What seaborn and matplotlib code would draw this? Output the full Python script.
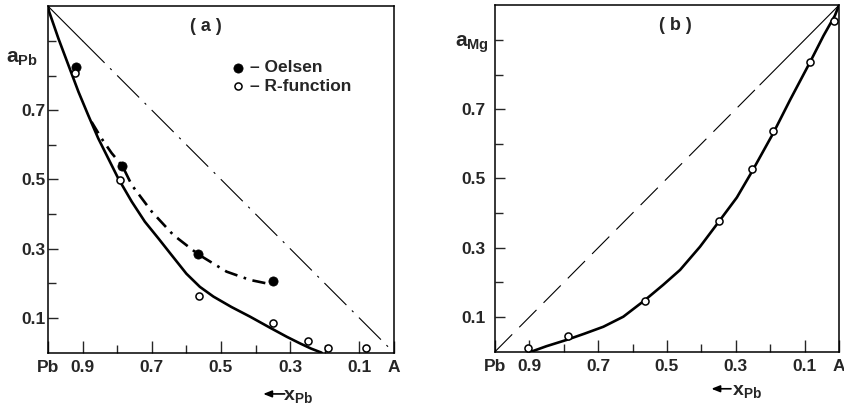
import matplotlib
matplotlib.use("Agg")
import matplotlib.pyplot as plt
import seaborn as sns

# ---- panel (a): activity of Pb ----
oelsen_x = [0.919, 0.785, 0.566, 0.349]
oelsen_y = [0.825, 0.539, 0.284, 0.207]

rfunc_a_x = [0.923, 0.791, 0.564, 0.351, 0.248, 0.192, 0.082]
rfunc_a_y = [0.806, 0.497, 0.164, 0.085, 0.035, 0.014, 0.013]

curve_a_x = [1.0, 0.997, 0.970, 0.941, 0.912, 0.884, 0.855, 0.826, 0.797, 0.758,
             0.720, 0.681, 0.647, 0.60, 0.561, 0.522, 0.47, 0.416, 0.36, 0.31,
             0.272, 0.24, 0.209]
curve_a_y = [1.0, 0.985, 0.907, 0.830, 0.753, 0.686, 0.619, 0.561, 0.503, 0.436,
             0.378, 0.330, 0.287, 0.228, 0.190, 0.162, 0.132, 0.104, 0.073, 0.046,
             0.027, 0.012, 0.0]

oelsen_curve_x = [0.874, 0.845, 0.816, 0.785, 0.758, 0.700, 0.638, 0.566, 0.484,
                  0.416, 0.368, 0.349]
oelsen_curve_y = [0.666, 0.618, 0.576, 0.539, 0.484, 0.407, 0.340, 0.284, 0.234,
                  0.210, 0.200, 0.205]

raoult_a_solid_x = [1.0, 0.9]
raoult_a_solid_y = [1.0, 0.9]
raoult_a_dash_x = [0.9, 0.0]
raoult_a_dash_y = [0.9, 0.0]

# ---- panel (b): activity of Mg ----
rfunc_b_x = [0.903, 0.789, 0.564, 0.350, 0.253, 0.192, 0.084, 0.014]
rfunc_b_y = [0.012, 0.046, 0.146, 0.377, 0.527, 0.636, 0.835, 0.955]

curve_b_x = [0.895, 0.85, 0.792, 0.74, 0.685, 0.627, 0.564, 0.511, 0.462, 0.404,
             0.351, 0.297, 0.254, 0.191, 0.142, 0.084, 0.045, 0.012, 0.0]
curve_b_y = [0.0, 0.016, 0.034, 0.052, 0.072, 0.101, 0.149, 0.193, 0.236, 0.303,
             0.373, 0.445, 0.518, 0.631, 0.727, 0.836, 0.912, 0.970, 1.0]

raoult_b_dash_x = [1.0, 0.23]
raoult_b_dash_y = [0.0, 0.77]
raoult_b_solid_x = [0.23, 0.0]
raoult_b_solid_y = [0.77, 1.0]

# axis ticks
xticks = [1.0, 0.9, 0.7, 0.5, 0.3, 0.1, 0.0]
xticklabels = ["Pb", "0.9", "0.7", "0.5", "0.3", "0.1", "A"]
xminor = [0.8, 0.6, 0.4, 0.2]
yticks = [0.1, 0.3, 0.5, 0.7]
yticklabels = ["0.1", "0.3", "0.5", "0.7"]
yminor = [0.2, 0.4, 0.6, 0.8, 0.9]

sns.set_style("ticks")
plt.rcParams["font.family"] = ["Liberation Sans", "DejaVu Sans"]
plt.rcParams["font.weight"] = "bold"
plt.rcParams["mathtext.fontset"] = "custom"
plt.rcParams["mathtext.rm"] = "Liberation Sans:bold"
plt.rcParams["mathtext.it"] = "Liberation Sans:bold"
plt.rcParams["mathtext.bf"] = "Liberation Sans:bold"

fig = plt.figure(figsize=(8.45, 4.12), dpi=100)
ax1 = fig.add_axes([48 / 845, 1 - 352.7 / 412, 346 / 845, 346.5 / 412])
ax2 = fig.add_axes([495 / 845, 1 - 351.7 / 412, 344 / 845, 346.5 / 412])


def style_axis(ax, ypad):
    ax.set_xlim(1, 0)
    ax.set_ylim(0, 1)
    ax.set_xticks(xticks)
    ax.set_xticklabels(xticklabels, fontsize=12.5, fontweight="bold")
    ax.set_xticks(xminor, minor=True)
    ax.set_yticks(yticks)
    ax.set_yticklabels(yticklabels, fontsize=12.5, fontweight="bold")
    ax.set_yticks(yminor, minor=True)
    ax.tick_params(axis="x", which="major", direction="in", length=9, width=1, pad=5)
    ax.tick_params(axis="x", which="minor", direction="in", length=6, width=1)
    ax.tick_params(axis="y", which="major", direction="in", length=7, width=1, pad=ypad)
    ax.tick_params(axis="y", which="minor", direction="in", length=6, width=1)
    for s in ax.spines.values():
        s.set_visible(True)
        s.set_linewidth(1.1)
        s.set_color("black")


def line(ax, xs, ys, lw, ls="-"):
    sns.lineplot(x=xs, y=ys, ax=ax, color="black", lw=lw, linestyle=ls,
                 sort=False, estimator=None)


def arrow_xlabel(ax, x_text, y_text, x_tail, x_head, y_arrow):
    # "<-- x_Pb" below the axis: arrow drawn, label as text
    ax.set_xlabel(r"x$_{\mathregular{Pb}}$", fontsize=14, fontweight="bold")
    ax.xaxis.set_label_coords(x_text, y_text)
    ax.xaxis.label.set_va("center")
    ax.annotate("", xy=(x_head, y_arrow), xytext=(x_tail, y_arrow),
                xycoords="axes fraction", textcoords="axes fraction",
                annotation_clip=False,
                arrowprops=dict(arrowstyle="-|>,head_length=0.5,head_width=0.2",
                                color="black", lw=1.2, shrinkA=0, shrinkB=0))


# panel (a)
line(ax1, raoult_a_solid_x, raoult_a_solid_y, 0.8)
line(ax1, raoult_a_dash_x, raoult_a_dash_y, 0.8, (0, (28, 7, 2, 7)))
line(ax1, curve_a_x, curve_a_y, 1.9)
line(ax1, oelsen_curve_x, oelsen_curve_y, 1.9, (0, (5, 2.5, 1, 2.5)))
sns.scatterplot(x=oelsen_x, y=oelsen_y, ax=ax1, color="black", s=44,
                edgecolor="black", linewidth=0.5, zorder=5, label="– Oelsen")
sns.scatterplot(x=rfunc_a_x, y=rfunc_a_y, ax=ax1, facecolor="white", s=26,
                edgecolor="black", linewidth=1.1, zorder=5, label="– R-function")
style_axis(ax1, 2)
ax1.legend(loc="upper left", bbox_to_anchor=(0.53, 0.845), frameon=False,
           handlelength=0.8, handletextpad=0.3, labelspacing=0.2,
           borderaxespad=0, borderpad=0, prop={"size": 12.5, "weight": "bold"})
ax1.text(0.455, 0.94, "( a )", transform=ax1.transAxes, ha="center", va="center",
         fontsize=13, fontweight="bold")
ax1.set_ylabel(r"a$_{\mathregular{Pb}}$", rotation=0, fontsize=15, fontweight="bold")
ax1.yaxis.set_label_coords(-0.075, 0.85)
ax1.yaxis.label.set_va("center")
ax1.yaxis.label.set_ha("center")
arrow_xlabel(ax1, 0.722, -0.125, 0.684, 0.622, -0.119)

# panel (b)
line(ax2, raoult_b_dash_x, raoult_b_dash_y, 0.8, (0, (22, 9)))
line(ax2, raoult_b_solid_x, raoult_b_solid_y, 0.8)
line(ax2, curve_b_x, curve_b_y, 1.9)
sns.scatterplot(x=rfunc_b_x, y=rfunc_b_y, ax=ax2, facecolor="white", s=26,
                edgecolor="black", linewidth=1.1, zorder=5)
style_axis(ax2, 7)
ax2.text(0.525, 0.94, "( b )", transform=ax2.transAxes, ha="center", va="center",
         fontsize=13, fontweight="bold")
ax2.set_ylabel(r"a$_{\mathregular{Mg}}$", rotation=0, fontsize=15, fontweight="bold")
ax2.yaxis.set_label_coords(-0.067, 0.886)
ax2.yaxis.label.set_va("center")
ax2.yaxis.label.set_ha("center")
arrow_xlabel(ax2, 0.732, -0.114, 0.686, 0.629, -0.107)

fig.savefig("out.png", dpi=100)
